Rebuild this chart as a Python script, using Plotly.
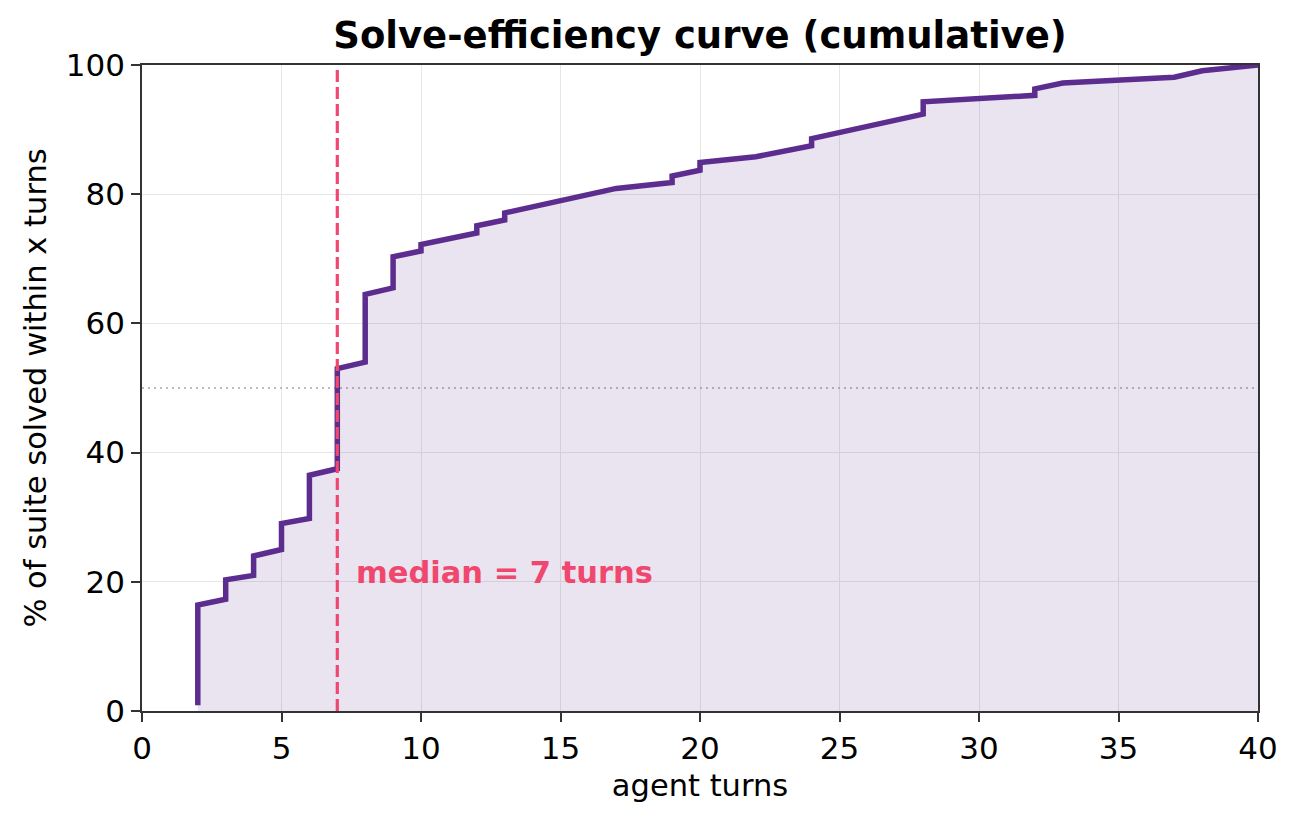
# Solve-efficiency curve (cumulative share of suite solved within x turns)
import plotly.graph_objects as go

# curve vertices (x = agent turns, y = % solved)
turns = [2, 2, 3, 3, 4, 4, 5, 5, 6, 6, 7, 7, 8, 8, 9, 9, 10, 10, 12, 12,
         13, 13, 17, 19, 19, 20, 20, 22, 24, 24, 28, 28, 32, 32, 33, 37, 38, 40]
pct_solved = [0.9, 16.4, 17.3, 20.3, 21.0, 24.0, 25.0, 29.0, 29.8, 36.5,
              37.5, 53.0, 54.0, 64.5, 65.5, 70.3, 71.2, 72.2, 74.0, 75.1,
              76.0, 77.1, 80.9, 81.8, 82.8, 83.7, 84.9, 85.8, 87.5, 88.6,
              92.4, 94.3, 95.3, 96.3, 97.2, 98.1, 99.1, 100.0]
median_turns = 7
half_line = 50
x_ticks = [0, 5, 10, 15, 20, 25, 30, 35, 40]
y_ticks = [0, 20, 40, 60, 80, 100]

purple = '#5c2d8f'
pink = '#f0476f'
font = 'DejaVu Sans'

fig = go.Figure()

# 50% reference line
fig.add_trace(go.Scatter(
    x=[0, 40], y=[half_line, half_line], mode='lines',
    line=dict(color='#bdbdbd', width=2, dash='2px,4px'),
    hoverinfo='skip', showlegend=False
))

# cumulative curve with fill
fig.add_trace(go.Scatter(
    x=turns, y=pct_solved, mode='lines',
    line=dict(color=purple, width=5.5),
    fill='tozeroy', fillcolor='rgba(92,45,143,0.13)',
    showlegend=False
))

# median marker
fig.add_trace(go.Scatter(
    x=[median_turns, median_turns], y=[0, 100], mode='lines',
    line=dict(color=pink, width=3.2, dash='12px,5px'),
    hoverinfo='skip', showlegend=False
))

fig.add_annotation(
    x=median_turns + 0.6, y=21.5, xref='x', yref='y',
    text=f'<b>median = {median_turns} turns</b>', showarrow=False,
    xanchor='left', yanchor='middle',
    font=dict(family=font, size=30.5, color=pink)
)

axis_common = dict(
    showline=True, linecolor='#333333', linewidth=1.8, mirror=True,
    ticks='outside', ticklen=9, tickwidth=1.8, tickcolor='#333333',
    showgrid=True, gridcolor='#e6e6e6', gridwidth=1.4,
    zeroline=False, tickfont=dict(family=font, size=31, color='black'),
)

fig.update_xaxes(range=[0, 40], tickvals=x_ticks,
                 title=dict(text='agent turns', font=dict(family=font, size=30.5, color='black'), standoff=10),
                 **axis_common)
fig.update_yaxes(range=[0, 100], tickvals=y_ticks,
                 title=dict(text='% of suite solved within x turns', font=dict(family=font, size=30.5, color='black'), standoff=10),
                 **axis_common)

# page has an 8px body margin, so the figure is shrunk by that much
fig.update_layout(
    width=1289, height=815,
    margin=dict(l=134, r=39, t=57, b=112),
    title=dict(text='<b>Solve-efficiency curve (cumulative)</b>', x=0.5, xref='paper',
               y=1, yref='paper', yanchor='bottom', pad=dict(b=17),
               font=dict(family=font, size=37, color='black')),
    plot_bgcolor='white', paper_bgcolor='white',
    font=dict(family=font),
)

fig.write_html("out.html")
